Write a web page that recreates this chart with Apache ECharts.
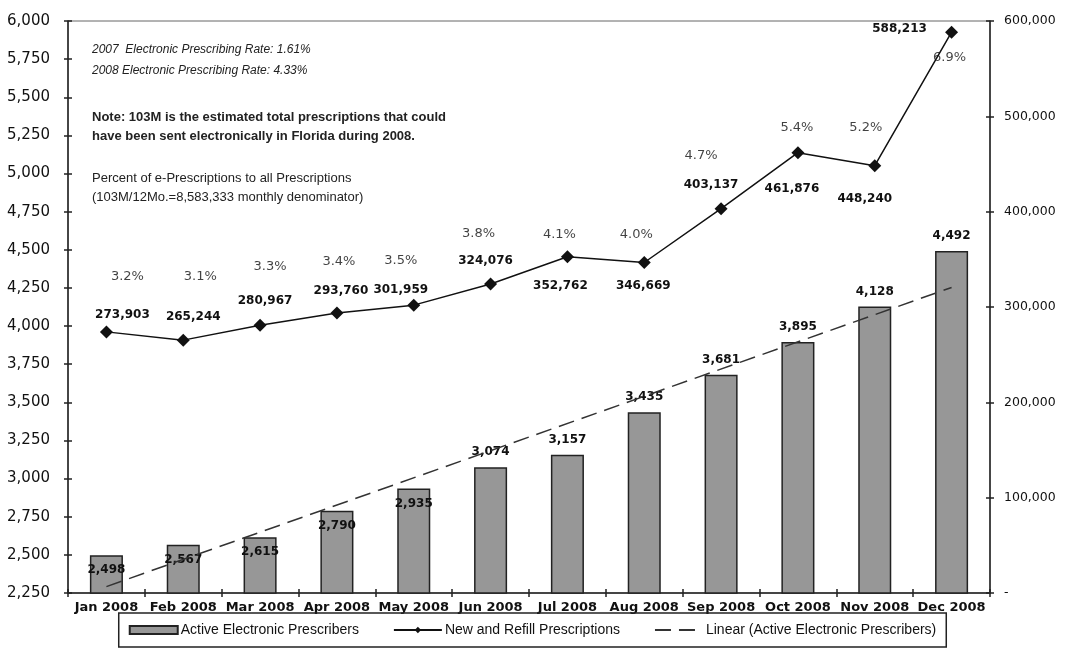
<!DOCTYPE html>
<html>
<head>
<meta charset="utf-8">
<script src="https://cdn.jsdelivr.net/npm/echarts@6/dist/echarts.min.js"></script>
<style>
  html, body { margin: 0; padding: 0; background: #fff; }
  #chart { width: 1065px; height: 658px; }
</style>
</head>
<body>
<div id="chart"></div>
<script>
// ---------- data ----------
const months = ['Jan 2008', 'Feb 2008', 'Mar 2008', 'Apr 2008', 'May 2008', 'Jun 2008',
                'Jul 2008', 'Aug 2008', 'Sep 2008', 'Oct 2008', 'Nov 2008', 'Dec 2008'];
const activePrescribers = [2498, 2567, 2615, 2790, 2935, 3074, 3157, 3435, 3681, 3895, 4128, 4492];
const newAndRefill = [273903, 265244, 280967, 293760, 301959, 324076, 352762, 346669, 403137, 461876, 448240, 588213];
const percentOfAll = [3.2, 3.1, 3.3, 3.4, 3.5, 3.8, 4.1, 4.0, 4.7, 5.4, 5.2, 6.9];
// linear trend of active prescribers, read at first and last month
const trendStart = 2292;
const trendEnd = 4253;
// axis ranges / ticks
const leftMin = 2250, leftMax = 6000, leftStep = 250;
const rightMin = 0, rightMax = 600000, rightStep = 100000;
const notes = [
  '2007  Electronic Prescribing Rate: 1.61%',
  '2008 Electronic Prescribing Rate: 4.33%',
  'Note: 103M is the estimated total prescriptions that could',
  'have been sent electronically in Florida during 2008.',
  'Percent of e-Prescriptions to all Prescriptions',
  '(103M/12Mo.=8,583,333 monthly denominator)'
];
const seriesNames = ['Active Electronic Prescribers', 'New and Refill Prescriptions', 'Linear (Active Electronic Prescribers)'];

// ---------- label placement (styling) ----------
const valueLabelOffsets = [[16,-17],[10,-23],[5,-24],[4,-22],[-13,-15],[-5,-23],[-7,29],[-1,23],[-10,-24],[-6,36],[-10,33],[-52,-3]];
const pctLabelOffsets   = [[21,-55],[17,-64],[10,-59],[2,-51],[-13,-45],[-12,-50],[-8,-22],[-8,-28],[-20,-53],[-1,-25],[-9,-38],[-2,25]];
const barLabelInside = [true, true, true, true, true, false, false, false, false, false, false, false];
const noteTops = [44, 65, 111, 130, 172, 191];

const fmt = v => v.toLocaleString('en-US');
const dataFont = 'DejaVu Sans';

const barData = activePrescribers.map((v, i) => ({
  value: v,
  label: barLabelInside[i] ? { position: 'insideTop', distance: 9 } : { position: 'top', distance: 9 }
}));
const lineData = newAndRefill.map((v, i) => ({
  value: v,
  label: { offset: valueLabelOffsets[i] }
}));
const pctData = newAndRefill.map((v, i) => ({
  value: v,
  pct: percentOfAll[i],
  label: { offset: pctLabelOffsets[i] }
}));

const chart = echarts.init(document.getElementById('chart'), null, { renderer: 'canvas' });

const gridBox = { left: 68, right: 75, top: 21, bottom: 65 };
const tickStyle = { color: '#222', width: 1.5 };

const option = {
  backgroundColor: '#ffffff',
  animation: false,
  grid: Object.assign({ show: true, borderColor: '#666', borderWidth: 1, backgroundColor: 'transparent' }, gridBox),
  legend: {
    data: [
      { name: seriesNames[0], icon: 'rect' },
      { name: seriesNames[1] },
      { name: seriesNames[2], itemStyle: { opacity: 0 } }
    ],
    left: 'center',
    bottom: 11,
    itemWidth: 48,
    itemHeight: 8,
    itemGap: 34,
    padding: [10, 10],
    borderColor: '#222',
    borderWidth: 1.5,
    textStyle: { fontFamily: 'Liberation Sans', fontSize: 14, color: '#111', padding: [0, 0, 0, -2] }
  },
  xAxis: [
    {
      type: 'category',
      data: months,
      axisLine: { lineStyle: tickStyle },
      axisTick: { show: true, length: 4, lineStyle: tickStyle },
      axisLabel: { fontFamily: dataFont, fontWeight: 'bold', fontSize: 13, color: '#111', margin: 8, interval: 0 }
    },
    {
      type: 'category',
      data: months,
      position: 'bottom',
      axisLine: { show: false },
      axisTick: { show: true, inside: true, length: 4, lineStyle: tickStyle },
      axisLabel: { show: false }
    }
  ],
  yAxis: [
    {
      type: 'value', position: 'left',
      min: leftMin, max: leftMax, interval: leftStep,
      axisLine: { show: true, lineStyle: tickStyle },
      axisTick: { show: true, length: 4, lineStyle: tickStyle },
      splitLine: { show: false },
      axisLabel: { formatter: v => fmt(v), fontFamily: dataFont, fontSize: 15, color: '#111', margin: 18 }
    },
    {
      type: 'value', position: 'right',
      min: rightMin, max: rightMax, interval: rightStep,
      axisLine: { show: true, lineStyle: tickStyle },
      axisTick: { show: true, length: 4, lineStyle: tickStyle },
      splitLine: { show: false },
      axisLabel: { formatter: v => (v === 0 ? '-' : fmt(v)), fontFamily: dataFont, fontSize: 12.5, color: '#111', margin: 14 }
    },
    {
      type: 'value', position: 'left',
      min: leftMin, max: leftMax, interval: leftStep,
      axisLine: { show: false },
      axisTick: { show: true, inside: true, length: 4, lineStyle: tickStyle },
      splitLine: { show: false },
      axisLabel: { show: false }
    },
    {
      type: 'value', position: 'right',
      min: rightMin, max: rightMax, interval: rightStep,
      axisLine: { show: false },
      axisTick: { show: true, inside: true, length: 4, lineStyle: tickStyle },
      splitLine: { show: false },
      axisLabel: { show: false }
    }
  ],
  graphic: notes.map((t, i) => ({
    type: 'text',
    left: 92,
    top: noteTops[i],
    style: {
      text: t,
      fill: '#222',
      font: (i < 2 ? 'italic 12px "Liberation Sans"' : (i < 4 ? 'bold 13px "Liberation Sans"' : '13px "Liberation Sans"'))
    }
  })),
  series: [
    {
      name: seriesNames[0],
      type: 'bar',
      xAxisIndex: 0, yAxisIndex: 0,
      data: barData,
      barWidth: '43%',
      itemStyle: { color: '#979797', borderColor: '#222', borderWidth: 1.5 },
      label: {
        show: true,
        formatter: p => fmt(p.value),
        fontFamily: dataFont, fontWeight: 'bold', fontSize: 12, color: '#111'
      },
      z: 2
    },
    {
      name: seriesNames[2],
      type: 'line',
      xAxisIndex: 0, yAxisIndex: 0,
      data: [[0, trendStart], [months.length - 1, trendEnd]],
      symbol: 'none',
      lineStyle: { color: '#333', width: 1.5, type: [16, 8] },
      itemStyle: { color: '#333' },
      z: 3
    },
    {
      name: seriesNames[1],
      type: 'line',
      xAxisIndex: 0, yAxisIndex: 1,
      data: lineData,
      symbol: 'diamond',
      symbolSize: 13,
      lineStyle: { color: '#111', width: 1.5 },
      itemStyle: { color: '#111' },
      label: {
        show: true,
        position: 'inside',
        align: 'center', verticalAlign: 'middle',
        formatter: p => fmt(p.value),
        fontFamily: dataFont, fontWeight: 'bold', fontSize: 12, color: '#111'
      },
      z: 4
    },
    {
      name: 'pct',
      type: 'scatter',
      xAxisIndex: 0, yAxisIndex: 1,
      data: pctData,
      symbolSize: 1,
      itemStyle: { color: 'rgba(0,0,0,0)' },
      label: {
        show: true,
        position: 'inside',
        align: 'center', verticalAlign: 'middle',
        formatter: p => p.data.pct.toFixed(1) + '%',
        fontFamily: dataFont, fontSize: 13, color: '#111'
      },
      z: 5
    }
  ]
};

chart.setOption(option);
</script>
</body>
</html>
